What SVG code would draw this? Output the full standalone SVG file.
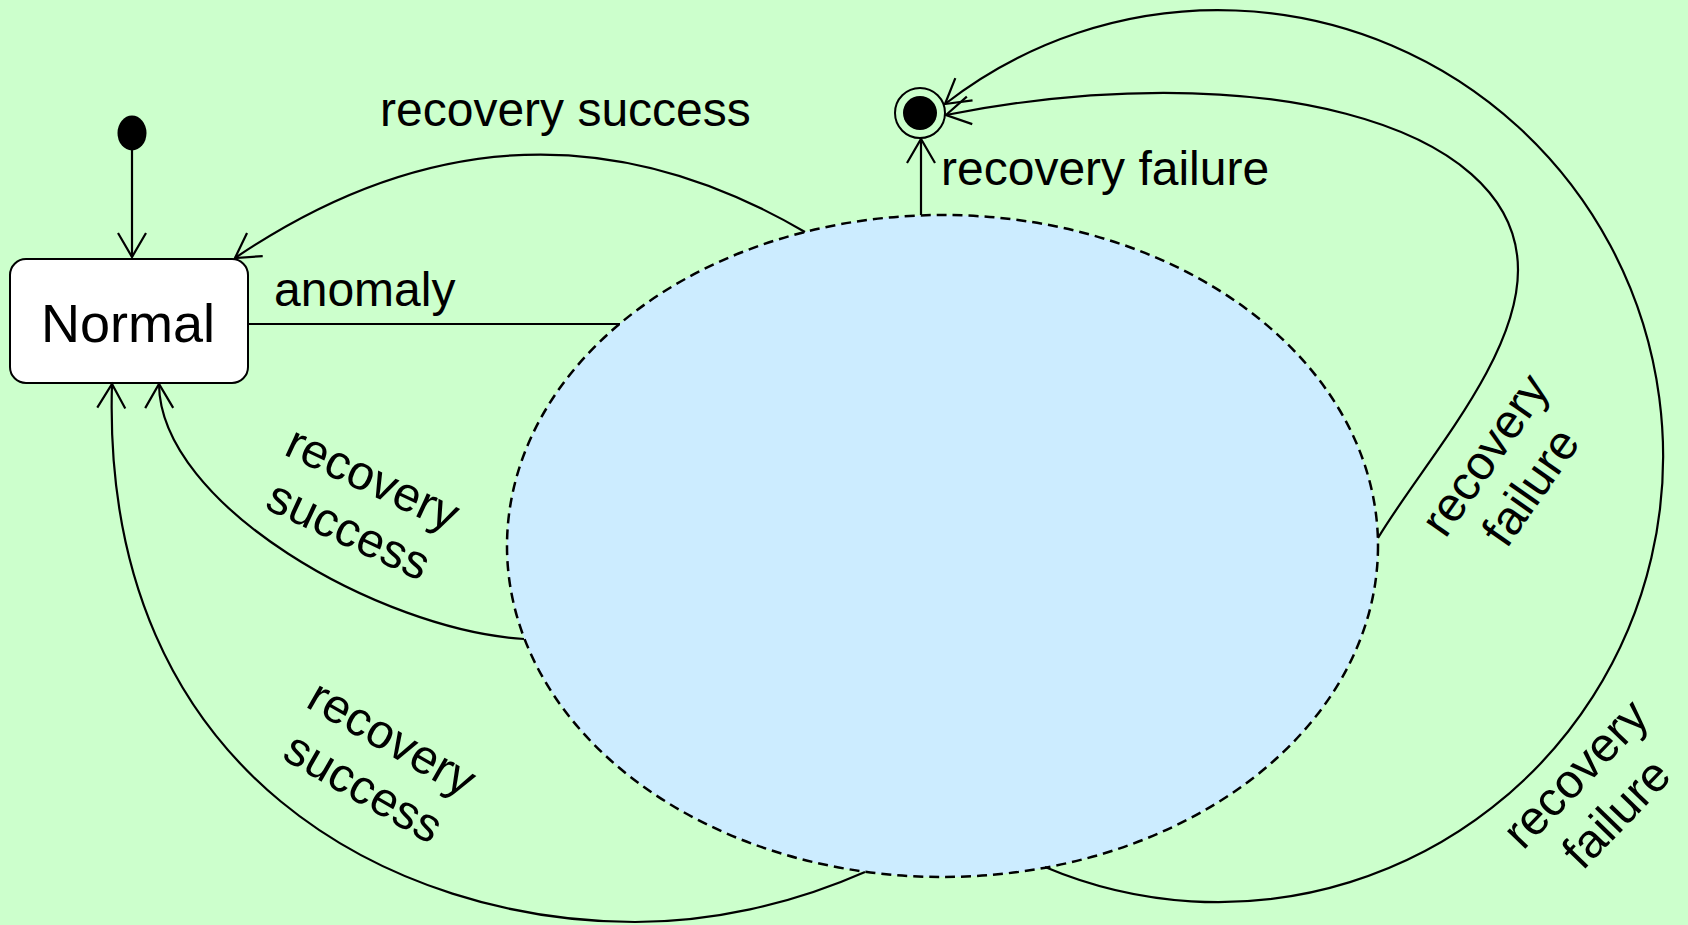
<svg xmlns="http://www.w3.org/2000/svg" width="1688" height="925" viewBox="0 0 1688 925">
<style>
.lbl{font-family:"Liberation Sans",Arial,sans-serif;font-size:48px;fill:#000}
.c{fill:none;stroke:#000;stroke-width:2.2}
</style>
<defs>
<marker id="arr" markerUnits="userSpaceOnUse" markerWidth="40" markerHeight="40" viewBox="-30 -20 40 40" refX="0" refY="0" orient="auto">
<path d="M-24,-14 L0,0 L-24,14" fill="none" stroke="#000" stroke-width="2.2"/>
</marker>
</defs>
<rect x="0" y="0" width="1688" height="925" fill="#CCFFCC"/>
<g id="composite">
<ellipse cx="942.5" cy="546" rx="435.5" ry="331" fill="#CCECFF" stroke="#000" stroke-width="2.5" stroke-dasharray="10 6"/>
</g>
<g id="initial">
<ellipse cx="132" cy="133" rx="14.5" ry="17.5" fill="#000"/>
</g>
<g id="normal">
<rect x="10" y="259" width="238" height="124" rx="16" ry="16" fill="#fff" stroke="#000" stroke-width="2"/>
<text x="128" y="342" text-anchor="middle" style="font-family:'Liberation Sans',Arial,sans-serif;font-size:54px">Normal</text>
</g>
<g id="final">
<circle cx="920" cy="113" r="25" fill="none" stroke="#000" stroke-width="2"/>
<circle cx="920" cy="113" r="17" fill="#000"/>
</g>
<g id="connectors">
<line class="c" x1="132" y1="150" x2="132" y2="257" marker-end="url(#arr)"/>
<line class="c" x1="248" y1="324" x2="620" y2="324"/>
<path class="c" d="M805,232 Q520,65 235,258" marker-end="url(#arr)"/>
<path class="c" d="M524,639 C380,630 160,505 159,384" marker-end="url(#arr)"/>
<path class="c" d="M865,872 C790,905 710,922 635,922 C400,922 100,780 112,384" marker-end="url(#arr)"/>
<line class="c" x1="921" y1="215" x2="921" y2="139" marker-end="url(#arr)"/>
<path class="c" d="M1378,538 C1423,463 1518,360 1518,270 C1518,120 1250,55 946,115" marker-end="url(#arr)"/>
<path class="c" d="M1045,867 A445,446 0 1 0 945,104" marker-end="url(#arr)"/>
</g>
<g id="labels">
<text class="lbl" x="380" y="126">recovery success</text>
<text class="lbl" x="274" y="306">anomaly</text>
<text class="lbl" x="941" y="185">recovery failure</text>
<g transform="translate(366,493) rotate(25)">
<text class="lbl" x="0" y="0" text-anchor="middle">recovery</text>
<text class="lbl" x="0" y="57" text-anchor="middle">success</text>
</g>
<g transform="translate(384,752) rotate(30)">
<text class="lbl" x="0" y="0" text-anchor="middle">recovery</text>
<text class="lbl" x="0" y="57" text-anchor="middle">success</text>
</g>
<g transform="translate(1498,464) rotate(-55)">
<text class="lbl" x="0" y="0" text-anchor="middle">recovery</text>
<text class="lbl" x="0" y="56" text-anchor="middle">failure</text>
</g>
<g transform="translate(1587,785) rotate(-46)">
<text class="lbl" x="0" y="0" text-anchor="middle">recovery</text>
<text class="lbl" x="0" y="57" text-anchor="middle">failure</text>
</g>
</g>
</svg>
